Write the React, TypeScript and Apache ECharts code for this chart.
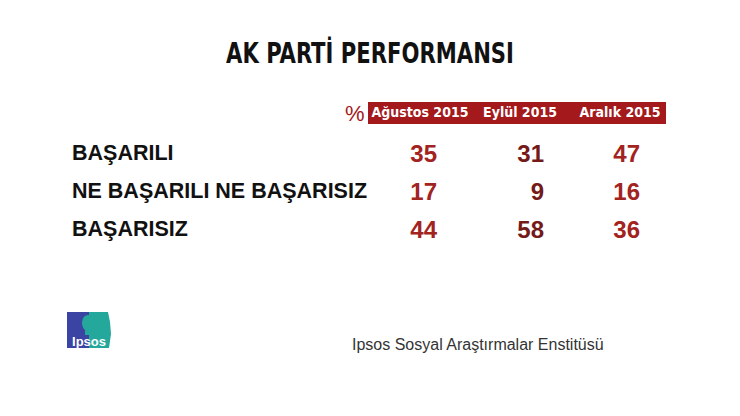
import React, { useEffect, useRef } from 'react'
import * as echarts from 'echarts'

const title = 'AK PARTİ PERFORMANSI'
const source = 'Ipsos Sosyal Araştırmalar Enstitüsü'
const months = ['Ağustos 2015', 'Eylül 2015', 'Aralık 2015']
const answers = ['BAŞARILI', 'NE BAŞARILI NE BAŞARISIZ', 'BAŞARISIZ']
const agustos = [35, 17, 44]
const eylul = [31, 9, 58]
const aralik = [47, 16, 36]
const columns = [agustos, eylul, aralik]
const numColors = ['#a22320', '#741a18', '#a22320']
const numOffsets = [17, 24, 20]

const NARROW = '"Liberation Sans Narrow", "DejaVu Sans Condensed", sans-serif'
const SANS = '"Liberation Sans", Arial, sans-serif'

export default function App() {
  const ref = useRef<HTMLDivElement | null>(null)

  useEffect(() => {
    if (!ref.current) return
    const chart = echarts.init(ref.current, null, { renderer: 'svg' })

    const series = columns.map((vals, c) => ({
      type: 'scatter',
      name: months[c],
      data: answers.map((a, i) => [months[c], a, vals[i]]),
      symbolSize: 1,
      itemStyle: { color: 'rgba(0,0,0,0)', opacity: 1 },
      label: {
        show: true,
        position: 'inside',
        align: 'right',
        offset: [numOffsets[c], 0],
        formatter: (p: any) => String(p.value[2]),
        color: numColors[c],
        opacity: 1,
        fontSize: 24,
        fontWeight: 'bold',
        fontFamily: SANS,
      },
    }))

    chart.setOption({
      animation: false,
      backgroundColor: '#ffffff',
      title: {
        text: source,
        left: 347,
        top: 331,
        textStyle: { fontSize: 16, fontWeight: 'normal', fontFamily: SANS, color: '#333' },
      },
      grid: { left: 370, width: 300, top: 134, height: 114, show: false },
      xAxis: {
        type: 'category',
        data: months,
        position: 'top',
        axisLine: { show: false },
        axisTick: { show: false },
        axisLabel: { interval: 0, color: '#fff', fontSize: 14, fontWeight: 'bold', fontFamily: NARROW, margin: 15 },
      },
      yAxis: {
        type: 'category',
        data: answers,
        inverse: true,
        axisLine: { show: false },
        axisTick: { show: false },
        axisLabel: { interval: 0, color: '#111', fontSize: 21.5, fontWeight: 'bold', fontFamily: SANS, align: 'left', margin: 298 },
      },
      graphic: [
        {
          type: 'text', x: 370, y: 53, scaleX: 0.84,
          style: { text: title, fill: '#111', fontSize: 28, fontWeight: 'bold', fontFamily: NARROW, align: 'center', verticalAlign: 'middle' },
        },
        { type: 'rect', z: -1, shape: { x: 368, y: 102, width: 298, height: 22 }, style: { fill: '#a3191c' } },
        { type: 'text', x: 345, y: 113, style: { text: '%', fill: '#a3191c', fontSize: 22, fontFamily: SANS, verticalAlign: 'middle' } },
        {
          type: 'group', x: 67, y: 312,
          children: [
            { type: 'rect', shape: { x: 0, y: 0, width: 23, height: 36 }, style: { fill: '#3b43a3' } },
            { type: 'polygon', shape: { points: [[22, 0], [41, 0], [43, 10], [44, 22], [42, 36], [22, 36]] }, style: { fill: '#25a89c' } },
            { type: 'ellipse', shape: { cx: 21, cy: 11, rx: 6, ry: 8 }, style: { fill: '#25a89c' } },
            { type: 'rect', shape: { x: 18, y: 17, width: 6, height: 6 }, style: { fill: '#25a89c' } },
            { type: 'text', x: 22, y: 29, style: { text: 'Ipsos', fill: '#fff', fontSize: 13, fontWeight: 'bold', fontFamily: SANS, align: 'center', verticalAlign: 'middle' } },
          ],
        },
      ],
      series,
    } as any)

    return () => chart.dispose()
  }, [])

  return <div ref={ref} style={{ position: 'fixed', left: 0, top: 0, width: 740, height: 416 }} />
}
